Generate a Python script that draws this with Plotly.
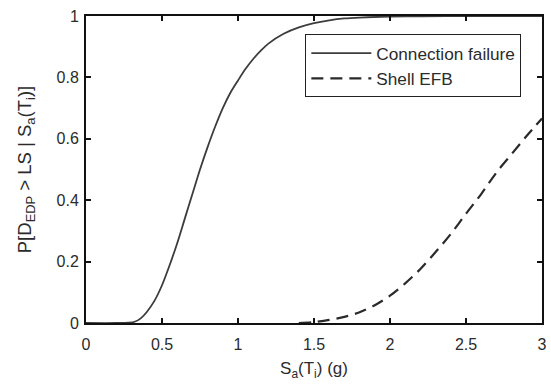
import plotly.graph_objects as go

# Spectral acceleration values (g) and exceedance probabilities
sa_conn = [0.0, 0.2, 0.28, 0.32, 0.36, 0.4, 0.45, 0.5, 0.55, 0.6, 0.65, 0.7,
           0.75, 0.8, 0.85, 0.9, 0.95, 1.0, 1.05, 1.1, 1.15, 1.2, 1.3, 1.4,
           1.5, 1.6, 1.7, 1.8, 2.0, 2.2, 2.5, 3.0]
p_conn = [0.0, 0.0, 0.001, 0.004, 0.015, 0.036, 0.072, 0.123, 0.188, 0.26,
          0.34, 0.42, 0.50, 0.573, 0.64, 0.70, 0.75, 0.79, 0.828, 0.86,
          0.887, 0.91, 0.942, 0.963, 0.977, 0.986, 0.992, 0.995, 0.998,
          0.999, 1.0, 1.0]

sa_shell = [1.4, 1.5, 1.6, 1.7, 1.8, 1.9, 2.0, 2.1, 2.2, 2.3, 2.4, 2.5,
            2.6, 2.7, 2.8, 2.9, 3.0]
p_shell = [0.0, 0.003, 0.01, 0.02, 0.035, 0.058, 0.089, 0.129, 0.176,
           0.231, 0.29, 0.356, 0.42, 0.49, 0.55, 0.61, 0.666]

x_ticks = [0, 0.5, 1, 1.5, 2, 2.5, 3]
x_tick_text = ["0", "0.5", "1", "1.5", "2", "2.5", "3"]
y_ticks = [0, 0.2, 0.4, 0.6, 0.8, 1]
y_tick_text = ["0", "0.2", "0.4", "0.6", "0.8", "1"]

FONT = "Liberation Sans, Arial, Helvetica, sans-serif"
INK = "#2b2b2b"

fig = go.Figure()
fig.add_trace(go.Scatter(
    x=sa_conn, y=p_conn, mode="lines", name="Connection failure",
    line=dict(color="#3c3c3c", width=1.8, shape="spline", smoothing=0.8),
))
fig.add_trace(go.Scatter(
    x=sa_shell, y=p_shell, mode="lines", name="Shell EFB",
    line=dict(color="#2a2a2a", width=2.2, dash="12px,7px",
              shape="spline", smoothing=0.8),
))

axis_common = dict(
    showline=True, linecolor="#111", linewidth=2, mirror="ticks",
    ticks="inside", ticklen=5, tickwidth=1.5, tickcolor="#111",
    showgrid=False, zeroline=False,
    tickfont=dict(family=FONT, size=16, color=INK),
)

fig.update_layout(
    width=551, height=385,
    margin=dict(l=86, r=4, t=16, b=62),
    paper_bgcolor="white", plot_bgcolor="white",
    font=dict(family=FONT, color=INK),
    hovermode=False,
    xaxis=dict(
        range=[0, 3], tickvals=x_ticks, ticktext=x_tick_text,
        ticklabelstandoff=6,
        title=dict(text="S<sub>a</sub>(T<sub>i</sub>) (g)",
                   font=dict(family=FONT, size=17, color=INK), standoff=10),
        **axis_common,
    ),
    yaxis=dict(
        range=[0, 1], tickvals=y_ticks, ticktext=y_tick_text,
        ticklabelstandoff=2,
        title=dict(text="P[D<sub>EDP</sub> > LS | S<sub>a</sub>(T<sub>i</sub>)]",
                   font=dict(family=FONT, size=18.5, color=INK), standoff=20),
        **axis_common,
    ),
    legend=dict(
        x=0.481, y=0.94, xanchor="left", yanchor="top",
        bgcolor="white", bordercolor="#222", borderwidth=1,
        font=dict(family=FONT, size=17.2, color=INK),
        itemwidth=60, tracegroupgap=0,
    ),
    showlegend=True,
)

fig.write_html("out.html")
